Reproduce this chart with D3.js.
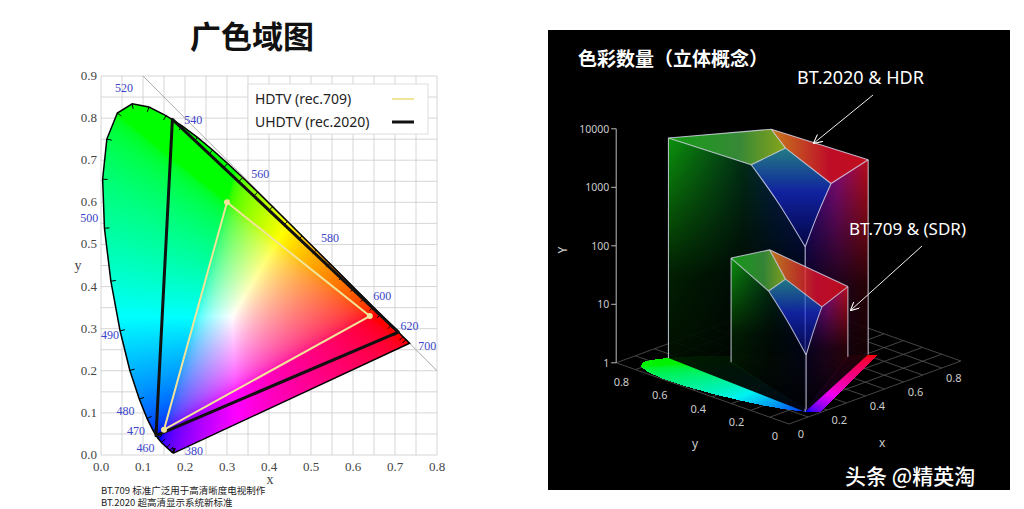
<!DOCTYPE html>
<html><head><meta charset="utf-8">
<script src="https://cdn.jsdelivr.net/npm/d3@7/dist/d3.min.js"></script>
<style>body{margin:0;background:#fff}svg{display:block}</style>
</head><body><svg id="c" width="1024" height="509"></svg>
<script>
// ---------- data ----------
const locusNm = [380,400,410,420,430,440,450,460,465,470,475,480,485,490,495,500,505,510,515,520,525,530,535,540,545,550,555,560,565,570,575,580,585,590,595,600,605,610,620,630,640,650,700];
const locusX = [.1741,.1733,.1726,.1714,.1689,.1644,.1566,.1440,.1355,.1241,.1096,.0913,.0687,.0454,.0235,.0082,.0039,.0139,.0389,.0743,.1142,.1547,.1929,.2296,.2658,.3016,.3373,.3731,.4087,.4441,.4788,.5125,.5448,.5752,.6029,.6270,.6482,.6658,.6915,.7079,.7190,.7260,.7347];
const locusY = [.0050,.0048,.0048,.0051,.0069,.0109,.0177,.0297,.0399,.0578,.0868,.1327,.2007,.2950,.4127,.5384,.6548,.7502,.8120,.8338,.8262,.8059,.7816,.7543,.7243,.6923,.6589,.6245,.5896,.5547,.5202,.4866,.4544,.4242,.3965,.3725,.3514,.3340,.3083,.2920,.2809,.2740,.2653];
const labelNm = [380,460,470,480,490,500,520,540,560,580,600,620,700];
const rec709X = [0.64,0.30,0.15], rec709Y = [0.33,0.60,0.06];
const rec2020X = [0.708,0.170,0.131], rec2020Y = [0.292,0.797,0.046];
const xTicks = [0,0.1,0.2,0.3,0.4,0.5,0.6,0.7,0.8];
const yTicks = [0,0.1,0.2,0.3,0.4,0.5,0.6,0.7,0.8,0.9];
const lumTicks = [1,10,100,1000,10000];
const floorTicks = [0,0.2,0.4,0.6,0.8];
// 3D volume key points: [x, y, log10(Y)]
const bigKeys = ["G","Y","R","W","L","M","B"];
const bigVals = [[0.170,0.797,3.76],[0.447,0.537,3.88],[0.708,0.292,3.33],[0.3127,0.329,3.96],[0.146,0.342,3.86],[0.368,0.147,3.5],[0.131,0.046,2.82]];
const smallVals = [[0.30,0.60,1.78],[0.412,0.511,1.89],[0.64,0.33,1.2],[0.3127,0.329,1.72],[0.225,0.33,1.62],[0.336,0.163,1.41],[0.15,0.06,0.93]];

const svg = d3.select("#c");
const font = "'Liberation Serif',serif";
const sans = "'Noto Sans','Noto Sans CJK SC',sans-serif";

const xs = d3.scaleLinear([0,0.8],[101,437]);
const ys = d3.scaleLinear([0,0.9],[455,76]);
const P0 = [789,424], ux=[191,-70], uy=[-192,-68];
const hs = d3.scaleLinear([0,4],[0,-234]);
function proj(x,y,h){return [P0[0]+ux[0]*x+uy[0]*y, P0[1]+ux[1]*x+uy[1]*y+hs(h||0)];}
function unproj(sx,sy){const a=ux[0],b=uy[0],c=ux[1],d=uy[1],det=a*d-b*c,X=sx-P0[0],Y=sy-P0[1];return [(d*X-b*Y)/det,(-c*X+a*Y)/det];}

const locus = locusX.map((x,i)=>[x,locusY[i]]);
function xyToRGB(x,y,bright){
  const X=x/y, Y=1, Z=(1-x-y)/y;
  let r=3.2406*X-1.5372*Y-0.4986*Z, g=-0.9689*X+1.8758*Y+0.0415*Z, b=0.0557*X-0.2040*Y+1.0570*Z;
  r=Math.max(r,0);g=Math.max(g,0);b=Math.max(b,0);
  const m=Math.max(r,g,b)||1;
  return [r,g,b].map(v=>Math.round(255*bright*Math.pow(v/m,1/2.2)));
}

svg.append("rect").attr("x",548).attr("y",30).attr("width",462).attr("height",460).attr("fill","#000");

const g = svg.append("g");
d3.range(0,0.8001,0.05).forEach(v=>g.append("line").attr("x1",xs(v)).attr("x2",xs(v)).attr("y1",ys(0)).attr("y2",ys(0.9)).attr("stroke","#ccc").attr("stroke-width",0.8));
d3.range(0,0.9001,0.05).forEach(v=>g.append("line").attr("y1",ys(v)).attr("y2",ys(v)).attr("x1",xs(0)).attr("x2",xs(0.8)).attr("stroke","#ccc").attr("stroke-width",0.8));
g.append("line").attr("x1",xs(0.1)).attr("y1",ys(0.9)).attr("x2",xs(0.8)).attr("y2",ys(0.2)).attr("stroke","#aaa").attr("stroke-width",1);

const fg = svg.append("g");
d3.range(0,0.9001,0.1).forEach(v=>{
  let a=proj(v,0),b=proj(v,0.9);
  fg.append("line").attr("x1",a[0]).attr("y1",a[1]).attr("x2",b[0]).attr("y2",b[1]).attr("stroke","#555").attr("stroke-width",0.8);
  a=proj(0,v);b=proj(0.9,v);
  fg.append("line").attr("x1",a[0]).attr("y1",a[1]).attr("x2",b[0]).attr("y2",b[1]).attr("stroke","#555").attr("stroke-width",0.8);
});

const cv = document.createElement("canvas"); cv.width=1024; cv.height=509;
const ctx = cv.getContext("2d"); const img = ctx.createImageData(1024,509);
function put(px,py,c,a){const k=(py*1024+px)*4;img.data[k]=c[0];img.data[k+1]=c[1];img.data[k+2]=c[2];img.data[k+3]=a;}
for(let py=70;py<460;py++)for(let px=95;px<440;px++){
  const x=xs.invert(px+0.5), y=ys.invert(py+0.5);
  if(y>0.001 && d3.polygonContains(locus,[x,y])) put(px,py,xyToRGB(x,y,1),255);
}
for(let py=320;py<430;py++)for(let px=600;px<1000;px++){
  const q=unproj(px+0.5,py+0.5);
  if(q[1]>0.001 && d3.polygonContains(locus,q)) put(px,py,xyToRGB(q[0],q[1],0.95),255);
}
ctx.putImageData(img,0,0);
svg.append("image").attr("x",0).attr("y",0).attr("width",1024).attr("height",509).attr("href",cv.toDataURL());

const line = d3.line().x(d=>xs(d[0])).y(d=>ys(d[1]));
svg.append("path").attr("d",line(locus)+"Z").attr("fill","none").attr("stroke","#000").attr("stroke-width",1.5);
locus.forEach((p,i)=>{
  if(i==locus.length-1) return;
  const q=locus[i+1], o=locus[Math.max(i-1,0)];
  const dx=xs(q[0])-xs(o[0]), dy=ys(q[1])-ys(o[1]), L=Math.hypot(dx,dy)||1;
  const nx=dy/L, ny=-dx/L; const X=xs(p[0]),Y=ys(p[1]);
  svg.append("line").attr("x1",X).attr("y1",Y).attr("x2",X-nx*5).attr("y2",Y-ny*5).attr("stroke","#000").attr("stroke-width",1);
});
const cen=[0.33,0.33];
const labelShift={380:[20,2],460:[-16,10],470:[-17,4],490:[-10,8]};
labelNm.forEach(nm=>{
  const i=locusNm.indexOf(nm), p=locus[i];
  let X=xs(p[0]),Y=ys(p[1]); const dx=X-xs(cen[0]),dy=Y-ys(cen[1]),L=Math.hypot(dx,dy);
  let tx=X+dx/L*18, ty=Y+dy/L*18+4;
  if(labelShift[nm]){tx=X+labelShift[nm][0];ty=Y+labelShift[nm][1];}
  svg.append("text").attr("x",tx).attr("y",ty).attr("text-anchor","middle")
    .attr("font-family",font).attr("font-size",12).attr("fill","#3a44c8").text(nm);
});
function tri(xa,ya,col,w,dots){
  const pts=xa.map((x,i)=>[x,ya[i]]);
  svg.append("path").attr("d",line(pts)+"Z").attr("fill","none").attr("stroke",col).attr("stroke-width",w).attr("stroke-linejoin","round");
  if(dots) pts.forEach(p=>svg.append("circle").attr("cx",xs(p[0])).attr("cy",ys(p[1])).attr("r",3).attr("fill",col));
}
tri(rec2020X,rec2020Y,"#111",3,false);
tri(rec709X,rec709Y,"#f2e59a",2,true);
xTicks.forEach(v=>svg.append("text").attr("x",xs(v)).attr("y",471).attr("text-anchor","middle").attr("font-family",font).attr("font-size",13).attr("fill","#444").text(v.toFixed(1)));
yTicks.forEach(v=>svg.append("text").attr("x",97).attr("y",ys(v)+4).attr("text-anchor","end").attr("font-family",font).attr("font-size",13).attr("fill","#444").text(v.toFixed(1)));
svg.append("text").attr("x",270).attr("y",484).attr("text-anchor","middle").attr("font-family",font).attr("font-size",14).attr("fill","#444").text("x");
svg.append("text").attr("x",78).attr("y",270).attr("text-anchor","middle").attr("font-family",font).attr("font-size",14).attr("fill","#444").text("y");
svg.append("rect").attr("x",248).attr("y",84).attr("width",180).attr("height",50).attr("fill","#fff").attr("stroke","#ddd");
svg.append("text").attr("x",255).attr("y",104).attr("font-family",sans).attr("font-size",14).attr("fill","#222").text("HDTV (rec.709)");
svg.append("text").attr("x",255).attr("y",127).attr("font-family",sans).attr("font-size",14).attr("fill","#222").text("UHDTV (rec.2020)");
svg.append("line").attr("x1",392).attr("x2",414).attr("y1",99).attr("y2",99).attr("stroke","#f2e59a").attr("stroke-width",2);
svg.append("line").attr("x1",392).attr("x2",414).attr("y1",122).attr("y2",122).attr("stroke","#111").attr("stroke-width",3);
svg.append("text").attr("x",252).attr("y",48).attr("text-anchor","middle").attr("font-family","'Noto Sans CJK SC'").attr("font-weight",700).attr("font-size",31).attr("fill","#111").text("广色域图");
svg.append("text").attr("x",101).attr("y",494).attr("font-family","'Noto Sans CJK SC'").attr("font-size",9.5).attr("fill","#222").text("BT.709 标准广泛用于高清晰度电视制作");
svg.append("text").attr("x",101).attr("y",506).attr("font-family","'Noto Sans CJK SC'").attr("font-size",9.5).attr("fill","#222").text("BT.2020 超高清显示系统新标准");

const defs=svg.append("defs");
function lg(id,stops,x1,y1,x2,y2){
  const gr=defs.append("linearGradient").attr("id",id).attr("x1",x1).attr("y1",y1).attr("x2",x2).attr("y2",y2);
  stops.forEach(s=>gr.append("stop").attr("offset",s[0]).attr("stop-color",s[1]).attr("stop-opacity",s[2]==null?1:s[2]));
}
lg("fL",[[0,"#10c010"],[0.55,"#034020"],[1,"#0820a0"]],0,0,1,0);
lg("fM",[[0,"#30b0b8"],[0.45,"#1830e0"],[1,"#050860"]],0,0,0,1);
lg("fR",[[0,"#3010c0"],[0.5,"#b010a0"],[1,"#f01020"]],0,0,1,0);
lg("tL",[[0,"#18b818"],[0.6,"#40a040"],[1,"#a0c020"]],0,0,1,0);
lg("tR",[[0,"#e89020"],[0.6,"#e01030"],[1,"#e01020"]],0,0,1,0);
lg("dark",[[0,"#000",0.05],[0.5,"#000",0.8],[1,"#000",0.97]],0,0,0,1);

function solid(vals,op){
  const K={}; bigKeys.forEach((k,i)=>K[k]=vals[i]);
  const P=k=>proj(...K[k]), F=k=>proj(K[k][0],K[k][1],0);
  const curve=(a,b)=>{const A=K[a],B=K[b];const m=[(A[0]+B[0])/2,(A[1]+B[1])/2,B[2]+(A[2]-B[2])*0.55];return [P(a),proj(...m),P(b)];};
  const grp=svg.append("g").attr("opacity",op);
  const cl=d3.line().curve(d3.curveCatmullRom);
  const poly=(pts,fill,o)=>grp.append("path").attr("d",d3.line()(pts)+"Z").attr("fill",fill).attr("fill-opacity",o==null?1:o);
  const cLB=curve("L","B"), cMB=curve("M","B");
  const left=[F("G"),P("G"),P("L"),...cLB.slice(1),F("B")];
  const right=[F("B"),...cMB.slice().reverse(),P("R"),F("R")];
  poly(left,"url(#fL)",0.85); poly(left,"url(#dark)");
  poly([P("W"),P("L"),...cLB.slice(1),...cMB.slice().reverse().slice(1)],"url(#fM)",0.75);
  poly(right,"url(#fR)",0.85); poly(right,"url(#dark)");
  poly([P("G"),P("Y"),P("W"),P("L")],"url(#tL)",0.9);
  poly([P("Y"),P("R"),P("M"),P("W")],"url(#tR)",0.9);
  const st=(d)=>grp.append("path").attr("d",d).attr("fill","none").attr("stroke","#e8e8ff").attr("stroke-opacity",0.8).attr("stroke-width",1.1);
  [["G","Y"],["Y","R"],["G","L"],["L","W"],["W","Y"],["W","M"],["M","R"]].forEach(e=>st(d3.line()([P(e[0]),P(e[1])])));
  st(cl(cLB)); st(cl(cMB));
  ["G","R","B"].forEach(k=>st(d3.line()([F(k),P(k)])));
}
solid(bigVals,0.95);
solid(smallVals,0.9);

const ax=proj(0,0.9,0);
svg.append("line").attr("x1",ax[0]).attr("x2",ax[0]).attr("y1",ax[1]).attr("y2",ax[1]+hs(4)).attr("stroke","#bbb");
lumTicks.forEach(v=>{const y=ax[1]+hs(Math.log10(v));
  svg.append("line").attr("x1",ax[0]-5).attr("x2",ax[0]).attr("y1",y).attr("y2",y).attr("stroke","#bbb");
  svg.append("text").attr("x",ax[0]-7).attr("y",y+4).attr("text-anchor","end").attr("font-family",sans).attr("font-size",10.5).attr("fill","#ccc").text(v);});
svg.append("text").attr("transform","translate(567,250) rotate(-90)").attr("text-anchor","middle").attr("font-family",sans).attr("font-size",12).attr("fill","#ccc").text("Y");
floorTicks.forEach(v=>{
  let p=proj(0,v); svg.append("text").attr("x",p[0]-14).attr("y",p[1]+16).attr("text-anchor","middle").attr("font-family",sans).attr("font-size",11).attr("fill","#ccc").text(String(v));
  p=proj(v,0); svg.append("text").attr("x",p[0]+12).attr("y",p[1]+14).attr("text-anchor","middle").attr("font-family",sans).attr("font-size",11).attr("fill","#ccc").text(String(v));
});
svg.append("text").attr("x",692).attr("y",448).attr("font-family",sans).attr("font-size",12).attr("fill","#ccc").text("y");
svg.append("text").attr("x",879).attr("y",447).attr("font-family",sans).attr("font-size",12).attr("fill","#ccc").text("x");
defs.append("marker").attr("id","ar").attr("viewBox","0 0 10 10").attr("refX",9).attr("refY",5).attr("markerWidth",9).attr("markerHeight",9).attr("orient","auto")
  .append("path").attr("d","M0,0L10,5L0,10").attr("fill","none").attr("stroke","#fff").attr("stroke-width",1.2);
svg.append("line").attr("x1",873).attr("y1",95).attr("x2",814).attr("y2",143).attr("stroke","#eee").attr("stroke-width",1).attr("marker-end","url(#ar)");
svg.append("line").attr("x1",922).attr("y1",246).attr("x2",851).attr("y2",310).attr("stroke","#eee").attr("stroke-width",1).attr("marker-end","url(#ar)");
svg.append("text").attr("x",797).attr("y",84).attr("font-family",sans).attr("font-size",18).attr("fill","#fff").text("BT.2020 & HDR");
svg.append("text").attr("x",849).attr("y",235).attr("font-family",sans).attr("font-size",17).attr("fill","#fff").text("BT.709 & (SDR)");
svg.append("text").attr("x",578).attr("y",66).attr("font-family","'Noto Sans CJK SC'").attr("font-weight",700).attr("font-size",19).attr("fill","#fff").text("色彩数量（立体概念）");
svg.append("text").attr("x",845).attr("y",484).attr("font-family","'Noto Sans CJK SC'").attr("font-weight",500).attr("font-size",21).attr("fill","#fff").text("头条 @精英淘");
</script></body></html>
